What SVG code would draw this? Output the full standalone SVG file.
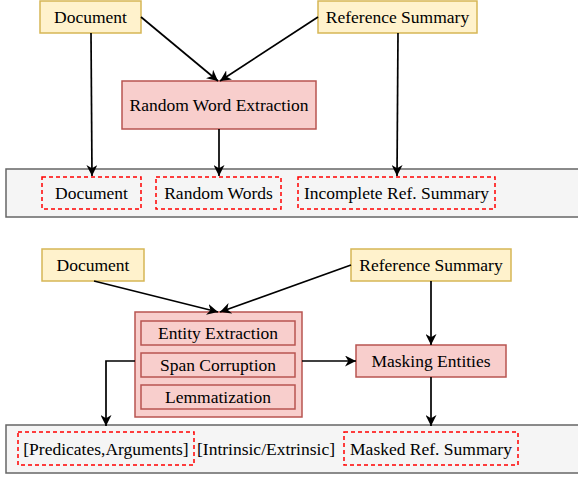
<svg xmlns="http://www.w3.org/2000/svg" width="578" height="477" viewBox="0 0 578 477">
<defs>
<marker id="arr" viewBox="0 0 10 10" refX="10" refY="5" markerWidth="11" markerHeight="11" markerUnits="userSpaceOnUse" orient="auto">
<path d="M0,0 L10,5 L0,10 L3,5 z" fill="#000"/>
</marker>
<style>
text{font-family:'Liberation Serif',serif;font-size:17.5px;fill:#000;text-anchor:middle}
.y{fill:#fff2cc;stroke:#d6b656;stroke-width:1.5}
.r{fill:#f8cecc;stroke:#b85450;stroke-width:1.5}
.g{fill:#f5f5f5;stroke:#666;stroke-width:1.5}
.d{fill:none;stroke:#ff0000;stroke-width:1.5;stroke-dasharray:4 3}
.c{fill:none;stroke:#000;stroke-width:1.7;marker-end:url(#arr)}
</style>
</defs>
<g font-family="Liberation Serif, serif">
<g id="top-output">
<rect class="g" x="6" y="169" width="580" height="48"/>
</g>
<g id="bottom-output">
<rect class="g" x="6" y="425" width="580" height="48"/>
</g>
<g id="doc1"><rect class="y" x="40" y="1" width="101" height="32"/><text x="90.5" y="23">Document</text></g>
<g id="ref1"><rect class="y" x="318" y="1" width="159" height="32"/><text x="397.5" y="23">Reference Summary</text></g>
<g id="rwe"><rect class="r" x="122" y="81" width="194" height="48"/><text x="219" y="111">Random Word Extraction</text></g>
<g id="out-doc"><rect class="d" x="42" y="177" width="99" height="32"/><text x="91.5" y="199">Document</text></g>
<g id="out-rw"><rect class="d" x="156" y="177" width="125" height="32"/><text x="218.5" y="199">Random Words</text></g>
<g id="out-inc"><rect class="d" x="298" y="177" width="197" height="32"/><text x="396.5" y="199">Incomplete Ref. Summary</text></g>
<g id="doc2"><rect class="y" x="42" y="249" width="102" height="32"/><text x="93" y="271">Document</text></g>
<g id="ref2"><rect class="y" x="351" y="249" width="160" height="32"/><text x="431" y="271">Reference Summary</text></g>
<g id="group">
<rect class="r" x="135" y="312" width="167" height="105"/>
<rect class="r" x="141" y="321" width="154" height="24"/><text x="218" y="339">Entity Extraction</text>
<rect class="r" x="141" y="353" width="154" height="24"/><text x="218" y="371">Span Corruption</text>
<rect class="r" x="141" y="385" width="154" height="24"/><text x="218" y="403">Lemmatization</text>
</g>
<g id="mask"><rect class="r" x="356" y="345" width="150" height="32"/><text x="431" y="367">Masking Entities</text></g>
<g id="out-pa"><rect class="d" x="18" y="432" width="176" height="33"/><text x="106" y="455">[Predicates,Arguments]</text></g>
<g id="out-ie"><text x="266" y="455">[Intrinsic/Extrinsic]</text></g>
<g id="out-mask"><rect class="d" x="344" y="432" width="174" height="33"/><text x="431" y="455">Masked Ref. Summary</text></g>
<g id="connectors">
<path class="c" d="M141,17 L218,81"/>
<path class="c" d="M318,17 L220,81"/>
<path class="c" d="M91,33 L92,176"/>
<path class="c" d="M219,129 L219,176"/>
<path class="c" d="M398,33 L397,176"/>
<path class="c" d="M94,281 L218,312"/>
<path class="c" d="M351,265 L220,312"/>
<path class="c" d="M431,281 L431,345"/>
<path class="c" d="M302,361 L356,361"/>
<path class="c" d="M431,377 L431,426"/>
<path class="c" d="M135,361 L106,361 L106,426"/>
</g>
</g>
</svg>
